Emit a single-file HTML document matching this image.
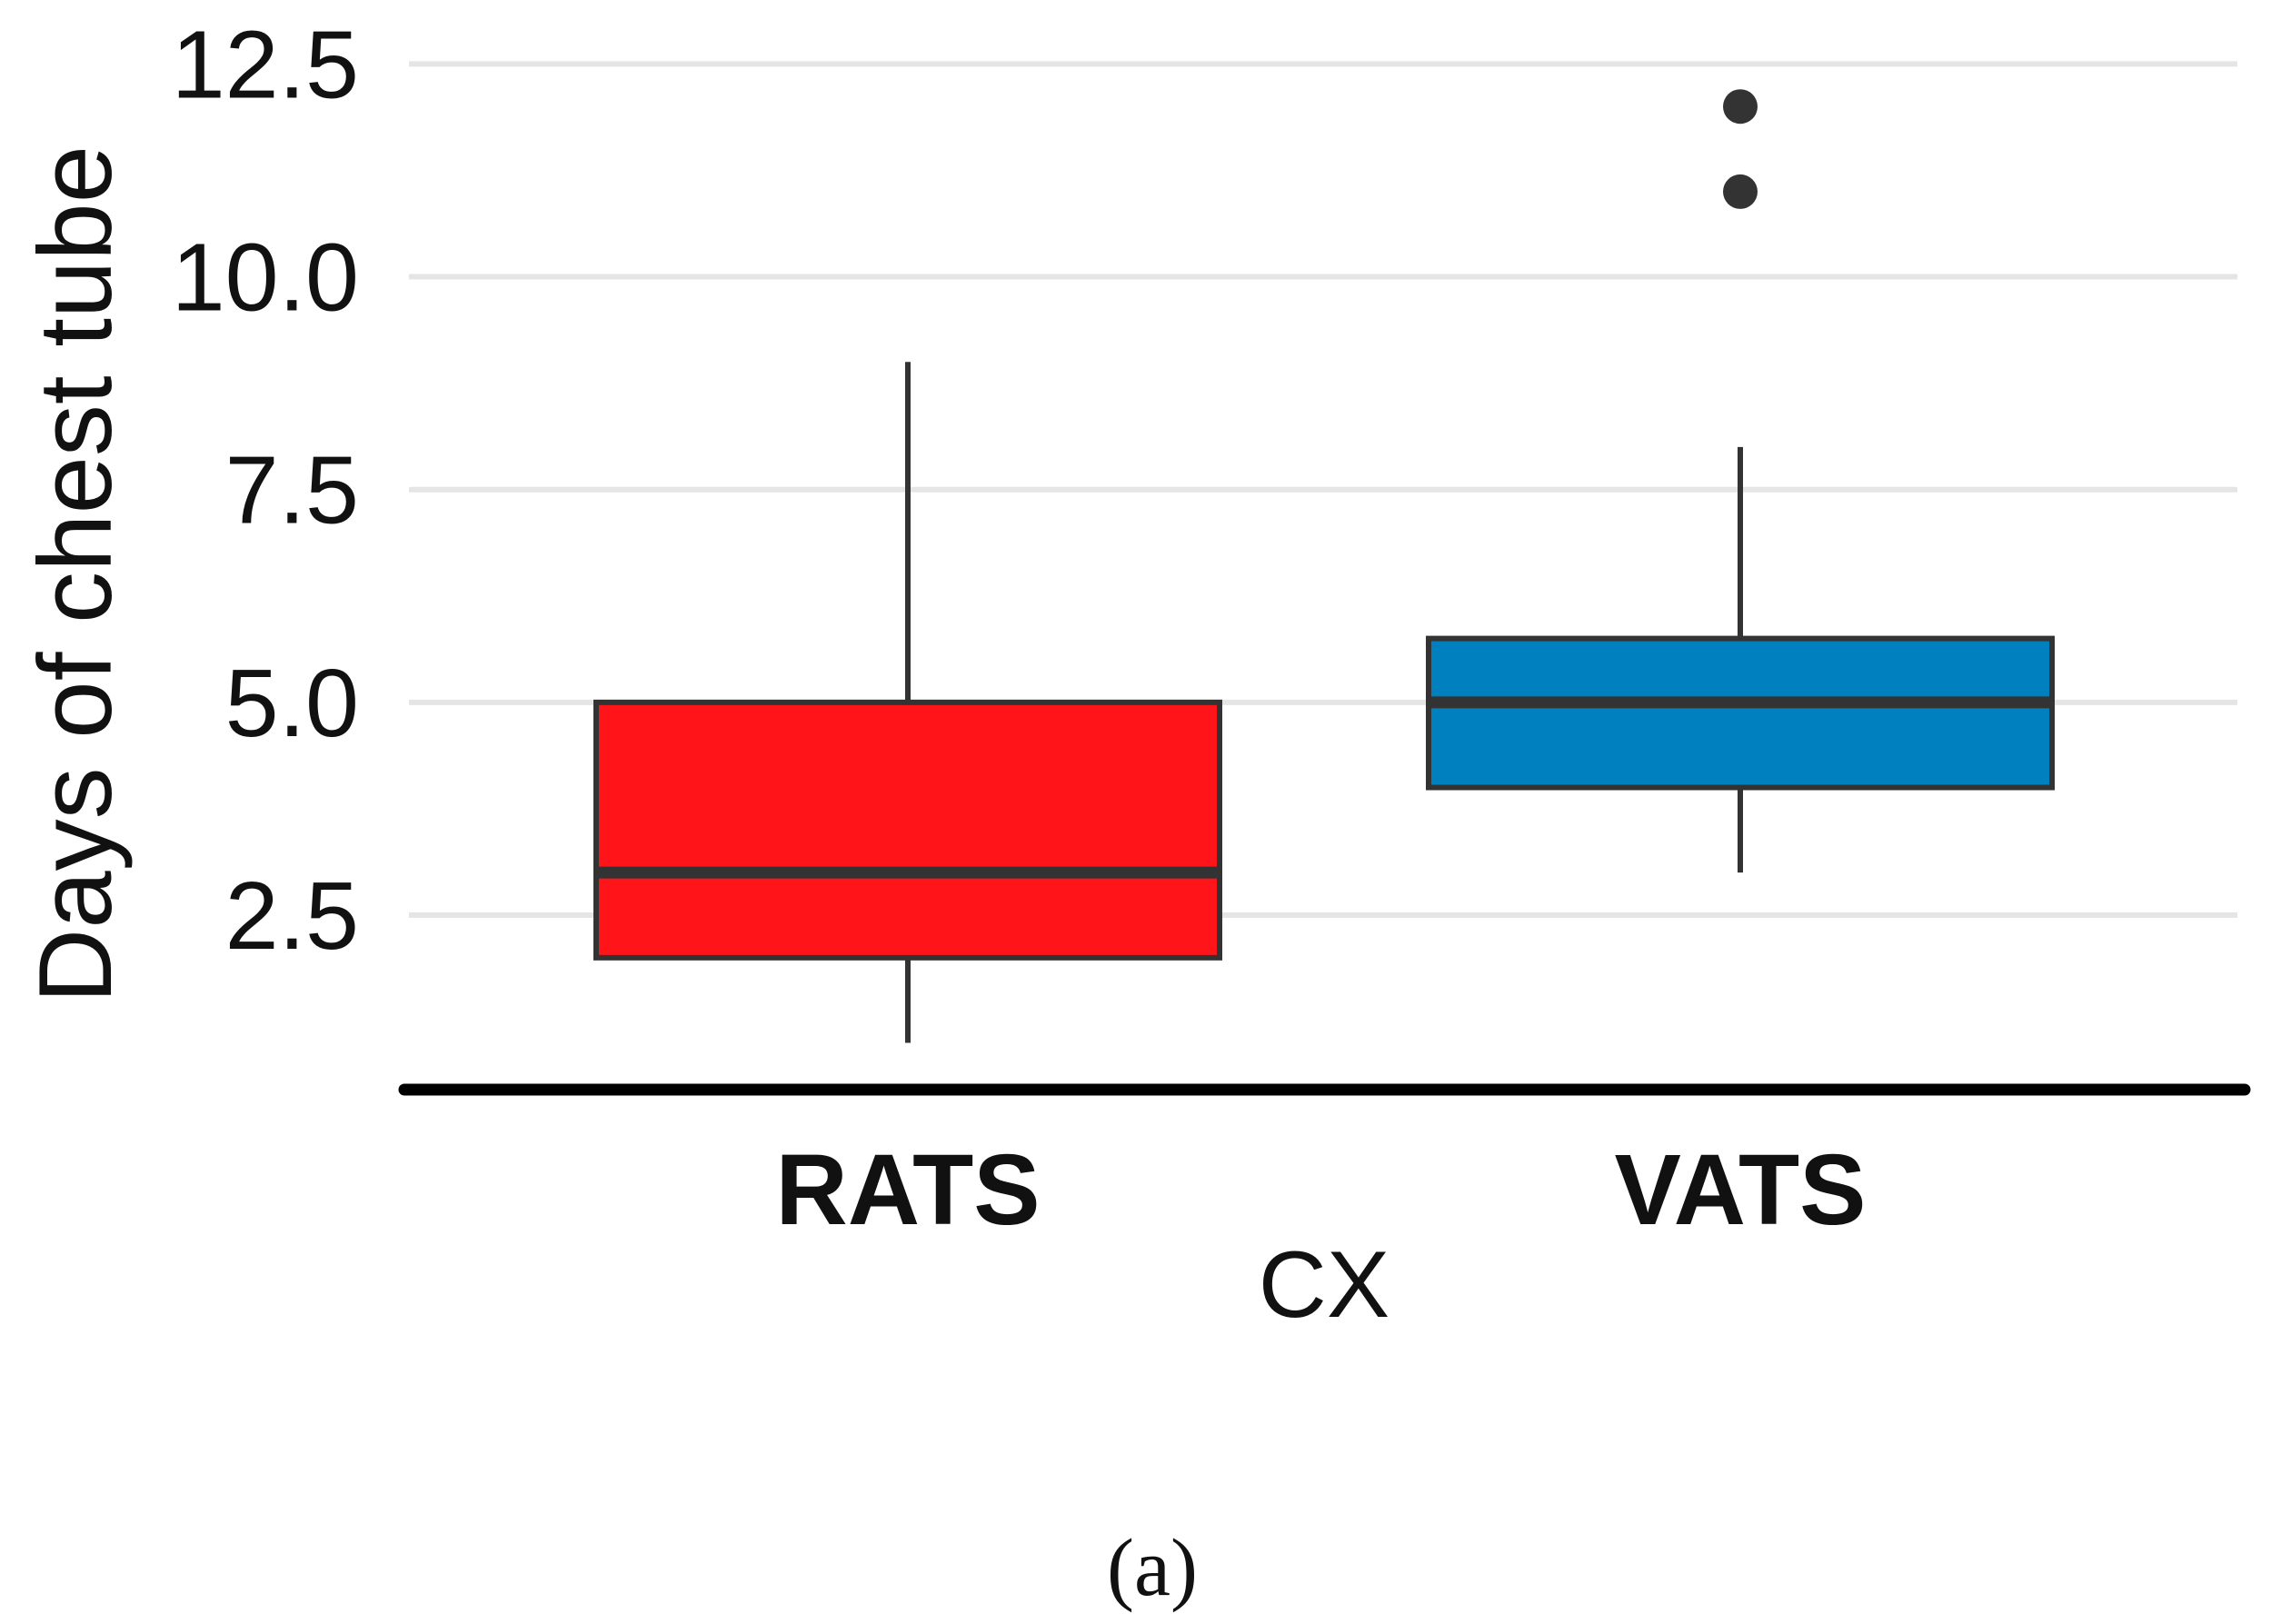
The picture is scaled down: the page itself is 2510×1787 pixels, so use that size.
<!DOCTYPE html>
<html><head><meta charset="utf-8"><style>
html,body{margin:0;padding:0;background:#fff;}
svg{display:block;}
text{font-family:"Liberation Sans",sans-serif;}
</style></head><body>
<svg id="chart" width="2510" height="1787" viewBox="0 0 2510 1787" xmlns="http://www.w3.org/2000/svg">
<g id="grid"></g>
<g id="yticks"></g>
<g id="boxes"></g>
<line x1="445" x2="2470" y1="1199" y2="1199" stroke="#000" stroke-width="13" stroke-linecap="round"/>
<g id="xticks"></g>
<text transform="translate(122,632) rotate(-90)" text-anchor="middle" font-size="114" fill="#111">Days of chest tube</text>
<text x="1457" y="1449" text-anchor="middle" font-size="104" fill="#111">CX</text>
<text x="1268" y="1755" text-anchor="middle" font-size="90" fill="#111" style="font-family:'Liberation Serif',serif">(a)</text>
</svg>
<script>
const categories = ["RATS","VATS"];
const whiskerLow = [1,3];
const q1 = [2,4];
const median = [3,5];
const q3 = [5,5.75];
const whiskerHigh = [9,8];
const outliers = [[],[11,12]];
const fills = ["#ff1419","#0080bf"];
const yTicks = [2.5,5.0,7.5,10.0,12.5];
const yTickLabels = ["2.5","5.0","7.5","10.0","12.5"];

const NS="http://www.w3.org/2000/svg";
function y(v){return 1007 - (v-2.5)*(1007-70.4)/10;}
function x(i){return 999 + i*916;}
const halfW=343;
function mk(tag,attrs,parent){const e=document.createElementNS(NS,tag);for(const k in attrs)e.setAttribute(k,attrs[k]);parent.appendChild(e);return e;}
const grid=document.getElementById('grid'),yt=document.getElementById('yticks'),bx=document.getElementById('boxes'),xt=document.getElementById('xticks');
yTicks.forEach((t,i)=>{
  const l=mk('line',{x1:450,x2:2462,y1:y(t),y2:y(t),stroke:'#e5e5e5','stroke-width':6},grid);
  
  
  const tx=mk('text',{x:395,y:y(t)+37,'text-anchor':'end','font-size':106,fill:'#111'},yt);
  tx.textContent=yTickLabels[i];
  
  
});
categories.forEach((c,i)=>{
  const cx=x(i);
  const g=mk('g',{},bx);
  
  
  mk('line',{x1:cx,x2:cx,y1:y(whiskerLow[i]),y2:y(whiskerHigh[i]),stroke:'#333','stroke-width':6},g);
  mk('rect',{x:cx-halfW,y:y(q3[i]),width:2*halfW,height:y(q1[i])-y(q3[i]),fill:fills[i],stroke:'#333','stroke-width':6},g);
  mk('line',{x1:cx-halfW,x2:cx+halfW,y1:y(median[i]),y2:y(median[i]),stroke:'#333','stroke-width':13},g);
  outliers[i].forEach(o=>{
    const p=mk('circle',{cx:cx,cy:y(o),r:19,fill:'#333'},g);
    
    
  });
  const t=mk('text',{x:cx,y:1347,'text-anchor':'middle','font-size':110,'font-weight':'bold',fill:'#111'},xt);
  t.textContent=c;
  
  
});
</script>
</body></html>
